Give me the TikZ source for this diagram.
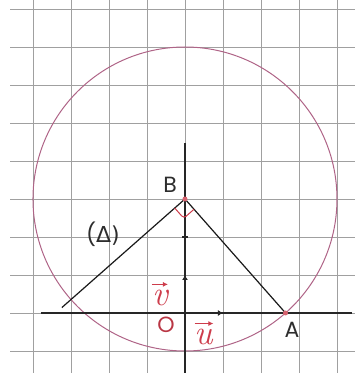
\documentclass[tikz,border=0pt]{standalone}
\usepackage{fontspec}
\setmainfont{Poppins}
\newfontfamily\grk{DejaVu Sans}
\newfontfamily\lmr{Latin Modern Roman}
\usetikzlibrary{arrows.meta,calc}
\definecolor{gridc}{RGB}{160,160,160}
\definecolor{circc}{RGB}{175,100,135}
\definecolor{redc}{RGB}{205,60,75}
\definecolor{txtc}{RGB}{45,45,45}
\tikzset{
  gridline/.style={draw=gridc,line width=0.9pt},
  axis/.style={draw=black!85,line width=1.3pt},
  seg/.style={draw=black!90,line width=1.2pt},
  lbl/.style={text=txtc,font=\fontsize{22}{24}\selectfont,inner sep=0pt},
  vlbl/.style={text=redc,font=\lmr\itshape\fontsize{35}{38}\selectfont,inner sep=0pt},
  varr/.style={draw=redc,line width=1.2pt,-{Latex[length=5pt,width=5pt]}},
  pt/.style={circle,fill=redc!80,inner sep=0pt,minimum size=5pt},
}
\begin{document}
\begin{tikzpicture}[x=38pt,y=38pt]
\useasboundingbox (-4.868,-1.579) rectangle (4.474,8.237);
% grid
\foreach \i in {-4,...,4} \draw[gridline] (\i,-1.579) -- (\i,8.237);
\foreach \j in {-1,...,8} \draw[gridline] (-4.6,\j) -- (4.474,\j);
% points
\coordinate (O) at (0,0);
\coordinate (B) at (0,3);
\coordinate (A) at ({sqrt(7)},0);
\coordinate (D) at (-3.24,0.143);
\coordinate (xl) at (-3.8,0);
\coordinate (xr) at (4.4,0);
\coordinate (yb) at (0,-1.579);
\coordinate (yt) at (0,4.47);
% circle
\draw[circc,line width=1pt] (B) circle (4);
% axes
\draw[axis] (xl) -- (xr);
\draw[axis] (yb) -- (yt);
\draw[axis,-{Latex[length=5pt,width=6pt]}] (O) -- (1,0);
\draw[axis,-{Latex[length=5pt,width=6pt]}] (O) -- (0,1);
\coordinate (t1) at (-0.07,2);
\coordinate (t2) at (0.07,2);
\draw[axis] (t1) -- (t2);
% segments
\draw[seg] (D) -- (B) -- (A);
% right angle mark
\coordinate (r1) at ($(B)+0.36*(0.6614,-0.75)$);
\coordinate (r3) at ($(B)+0.36*(-0.75,-0.6614)$);
\coordinate (r2) at ($(B)+0.36*(-0.0886,-1.4114)$);
\draw[redc,line width=1pt,rounded corners=3pt] (r1) -- (r2) -- (r3);
\node[pt] (pB) at (B) {};
\node[pt] (pA) at (A) {};
% labels
\node[lbl] (lB) at (-0.39,3.37) {B};
\node[lbl] (lA) at (2.82,-0.45) {A};
\node[lbl,text=redc!90!black] (lO) at (-0.5,-0.32) {O};
\node[lbl] (lD) at (-2.16,2.08) {(\grk Δ)};
\node[vlbl,anchor=base] (lu) at (0.5,-0.82) {u};
\node[vlbl,anchor=base] (lv) at (-0.66,0.21) {v};
\draw[varr] ($(lu.north west)+(0,5pt)$) -- ($(lu.north east)+(0,5pt)$);
\draw[varr] ($(lv.north west)+(0,5pt)$) -- ($(lv.north east)+(0,5pt)$);
\end{tikzpicture}
\end{document}
